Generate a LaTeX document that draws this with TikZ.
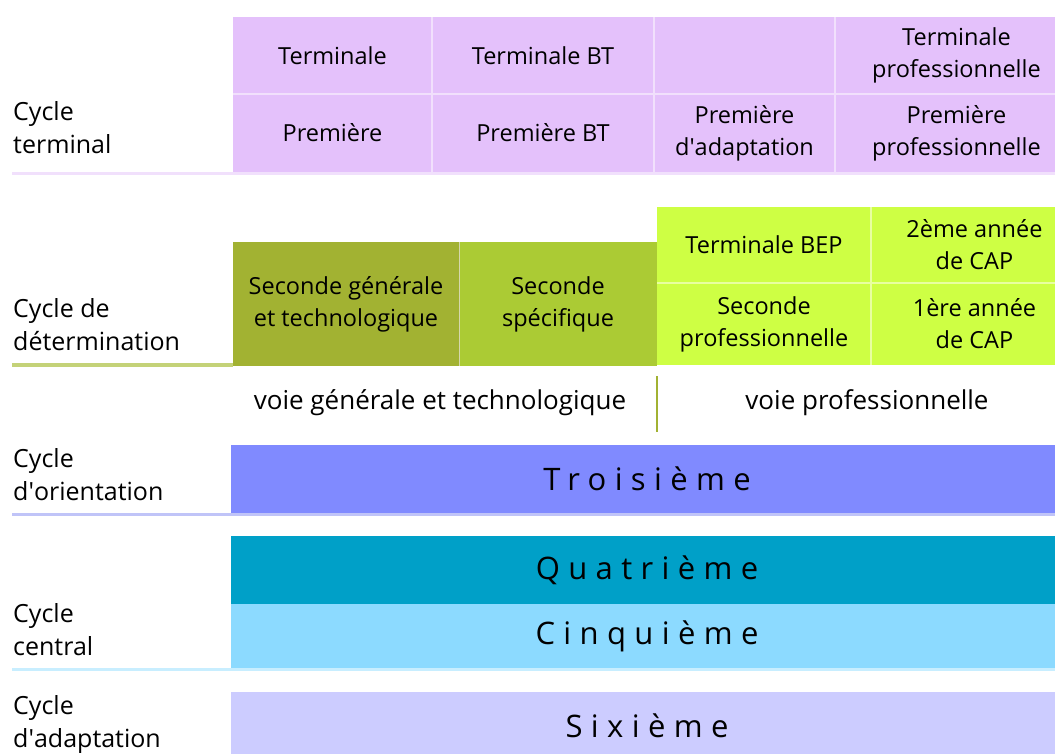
\documentclass[tikz,border=0pt]{standalone}
\usepackage{fontspec}
\setmainfont{Open Sans}
\usepackage{xcolor}
\usepackage{tikz}
\usetikzlibrary{positioning, calc}
\definecolor{termviolet}{RGB}{228,193,251}
\definecolor{termline}{RGB}{241,224,252}
\definecolor{olivegen}{RGB}{162,178,50}
\definecolor{olivespec}{RGB}{171,203,52}
\definecolor{limepro}{RGB}{206,255,68}
\definecolor{limeline}{RGB}{232,255,160}
\definecolor{detline}{RGB}{196,210,120}
\definecolor{troisblue}{RGB}{128,138,255}
\definecolor{orientline}{RGB}{192,196,248}
\definecolor{quatreteal}{RGB}{0,160,200}
\definecolor{cinqsky}{RGB}{140,218,255}
\definecolor{centralline}{RGB}{200,238,255}
\definecolor{sixlilac}{RGB}{204,204,255}
\newcommand{\apos}{\textquotesingle}
\newcommand{\spaced}[1]{{\addfontfeature{LetterSpace=27}#1}}

\begin{document}
\begin{tikzpicture}[x=1pt, y=-1pt,
  cell/.style={inner sep=0pt, align=center, font=\fontsize{23.5}{32}\selectfont},
  voie/.style={inner sep=0pt, font=\fontsize{26}{32}\selectfont},
  cyclelabel/.style={anchor=west, align=left, inner sep=0pt, font=\fontsize{25}{33}\selectfont},
  bar/.style={inner sep=0pt, minimum width=832pt, font=\fontsize{31}{31}\selectfont},
  sep/.style={line width=2.5pt}]
  \useasboundingbox (0,0) rectangle (1055,753);

  % cycle terminal
  \foreach \nm/\cx/\cw/\txt in {gen/332.5/199/Terminale, bt/543/222/Terminale BT, adap/744.5/181/{},
      pro/956.5/243/{Terminale\\professionnelle}} {
    \node[cell, fill=termviolet, minimum width=\cw pt, minimum height=77pt] (t\nm) at (\cx,55.5) {\txt};
  }
  \foreach \nm/\cx/\cw/\txt in {gen/332.5/199/Première, bt/543/222/Première BT,
      adap/744.5/181/{Première\\d\apos adaptation}, pro/956.5/243/{Première\\professionnelle}} {
    \node[cell, fill=termviolet, minimum width=\cw pt, minimum height=78pt] (p\nm) at (\cx,133) {\txt};
  }
  \draw[sep, termline] (tgen.south west) -- (tpro.south east);
  \draw[sep, termline] (tgen.north east) -- (pgen.south east);
  \draw[sep, termline] (tbt.north east) -- (pbt.south east);
  \draw[sep, termline] (tadap.north east) -- (padap.south east);
  \draw[line width=3pt, termline] (12,173.5) -- (1078,173.5);
  \node[cyclelabel] (lterm) at (13,128) {Cycle\\terminal};

  % cycle de determination
  \node[cell, fill=olivegen, minimum width=226pt, minimum height=124pt] (sgen) at (346,304)
    {Seconde générale\\et technologique};
  \node[cell, fill=olivespec, minimum width=198pt, minimum height=124pt] (sspec) at (558,304)
    {Seconde\\spécifique};
  \node[cell, fill=limepro, minimum width=214pt, minimum height=76pt] (tbep) at (764,245) {Terminale BEP};
  \node[cell, fill=limepro, minimum width=207pt, minimum height=76pt] (cap2) at (974.5,245) {2ème année\\de CAP};
  \node[cell, fill=limepro, minimum width=214pt, minimum height=82pt] (spro) at (764,324) {Seconde\\professionnelle};
  \node[cell, fill=limepro, minimum width=207pt, minimum height=82pt] (cap1) at (974.5,324) {1ère année\\de CAP};
  \draw[sep, limeline] (tbep.south west) -- (cap2.south east);
  \draw[sep, limeline] (tbep.north east) -- (spro.south east);
  \draw[line width=1pt, termline!60!olivespec] (sgen.north east) -- (sgen.south east);
  \draw[line width=3.5pt, detline] (12,365) -- (233,365);
  \node[cyclelabel] (ldet) at (13,325) {Cycle de\\détermination};

  % voies
  \node[voie] (vgen) at (440,403) {voie générale et technologique};
  \node[voie] (vpro) at (867,403) {voie professionnelle};
  \draw[line width=2.5pt, olivegen] ($(sspec.south east)+(0,10)$) -- ++(0,56);

  % cycle d'orientation
  \node[bar, fill=troisblue, minimum height=68pt] (trois) at (647,479) {\spaced{Troisième}};
  \draw[line width=3pt, orientline] (12,514.5) -- (1063,514.5);
  \node[cyclelabel] (lorient) at (13,475) {Cycle\\d\apos orientation};

  % cycle central
  \node[bar, fill=quatreteal, minimum height=68pt] (quatre) at (647,570) {\spaced{Quatrième}};
  \node[bar, fill=cinqsky, minimum height=64pt] (cinq) at (647,636) {\spaced{Cinquième}};
  \draw[line width=3.5pt, centralline] (12,669.5) -- (1063,669.5);
  \node[cyclelabel] (lcentral) at (13,630) {Cycle\\central};

  % cycle d'adaptation
  \node[bar, fill=sixlilac, minimum height=68pt] (six) at (647,726) {\spaced{Sixième}};
  \node[cyclelabel] (ladapt) at (13,724) {Cycle\\d\apos adaptation};
\end{tikzpicture}
\end{document}
